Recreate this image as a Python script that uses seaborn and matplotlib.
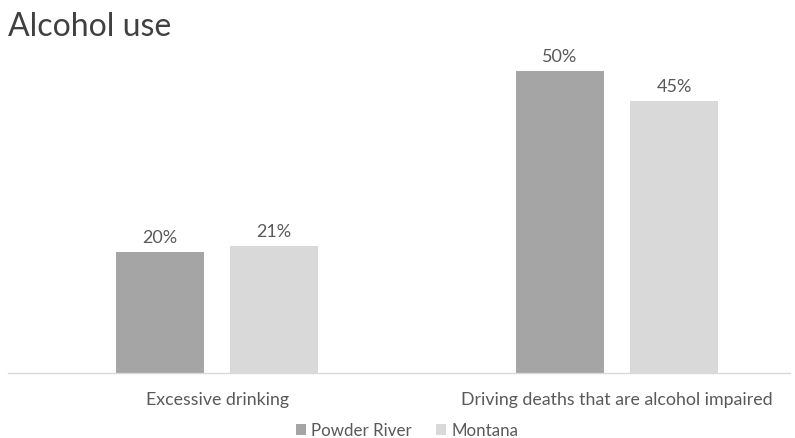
import matplotlib
matplotlib.use("Agg")
import matplotlib.pyplot as plt
import seaborn as sns
import pandas as pd

categories = ["Excessive drinking", "Driving deaths that are alcohol impaired"]
powder_river = [20, 50]
montana = [21, 45]
series_names = ["Powder River", "Montana"]

df = pd.DataFrame({
    "Measure": categories * 2,
    "Value": powder_river + montana,
    "Region": [series_names[0]] * 2 + [series_names[1]] * 2,
})

sns.set_theme(style="white")
plt.rcParams["font.family"] = ["Lato", "DejaVu Sans"]

fig = plt.figure(figsize=(7.95, 4.39), dpi=100)
ax = fig.add_axes([8 / 795, 65 / 439, 782 / 795, 332 / 439])

sns.barplot(x="Measure", y="Value", hue="Region", data=df, ax=ax,
            palette=["#A5A5A5", "#D9D9D9"], width=0.57, gap=0.22,
            saturation=1, edgecolor="none")

for c in ax.containers:
    ax.bar_label(c, labels=[f"{v:.0f}%" for v in c.datavalues], padding=5,
                 fontsize=13, color="#595959")

ax.set_xlim(-0.5225, 1.4325)
ax.set_ylim(0, 55)
ax.set_yticks([])
ax.set_xlabel("")
ax.set_ylabel("")
for s in ["top", "left", "right"]:
    ax.spines[s].set_visible(False)
ax.spines["bottom"].set_color("#D9D9D9")
ax.spines["bottom"].set_linewidth(1)
ax.tick_params(axis="x", length=0, pad=13, labelsize=12.8, labelcolor="#595959")

handles, labels = ax.get_legend_handles_labels()
ax.legend_.remove()
fig.legend(handles, labels, loc="center", bbox_to_anchor=(0.512, 0.018),
           ncol=2, frameon=False, fontsize=12.2, labelcolor="#595959",
           handlelength=0.6, handleheight=0.6, handletextpad=0.3, columnspacing=1.4)

fig.text(8 / 795, 1 - 27 / 439, "Alcohol use", fontsize=23, color="#404040",
         va="center", ha="left")

fig.savefig("out.png", dpi=100)
